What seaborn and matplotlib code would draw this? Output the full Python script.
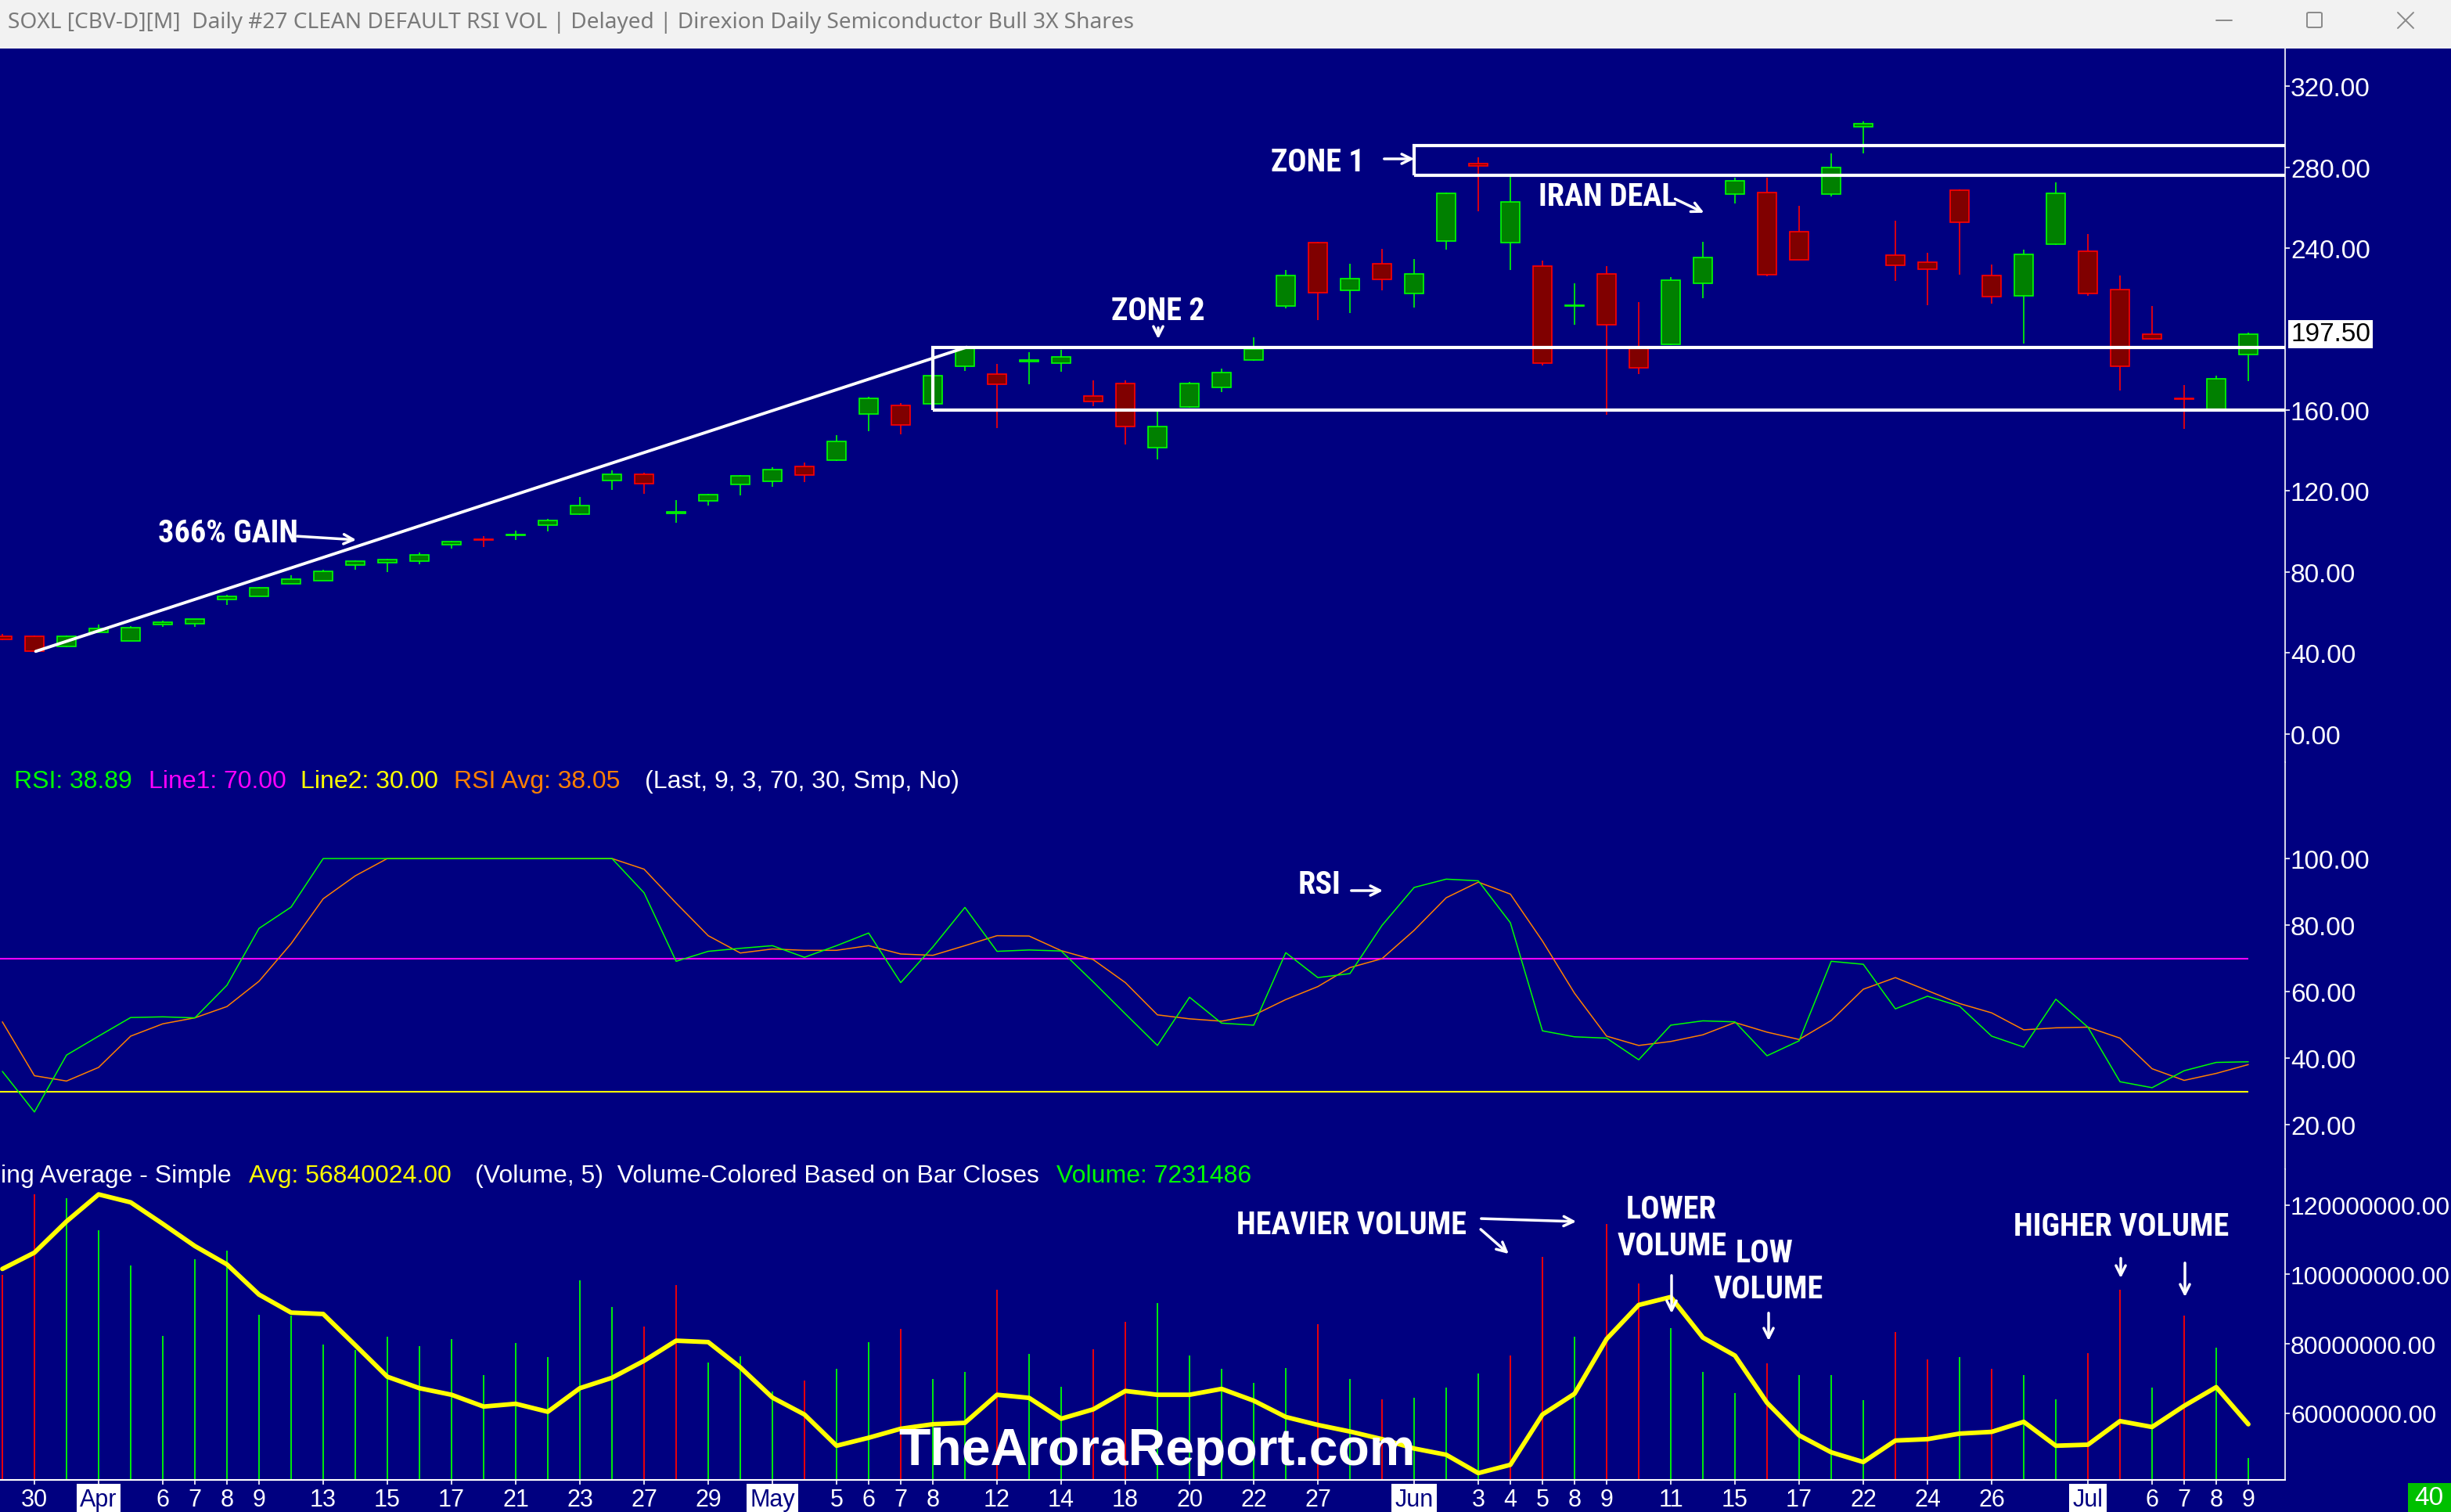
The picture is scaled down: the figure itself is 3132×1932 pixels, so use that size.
import matplotlib
matplotlib.use("Agg")
import numpy as np
import pandas as pd
import matplotlib.pyplot as plt
import seaborn as sns
from matplotlib import font_manager
from matplotlib.patches import Rectangle, FancyArrowPatch, FancyBboxPatch
from matplotlib.lines import Line2D

# ---- data (71 daily bars) ----
opens = [48.0, 48.0, 43.2, 50.2, 46.0, 53.8, 54.4, 66.2, 68.0, 74.2,
         75.8, 83.5, 84.6, 85.1, 93.3, 96.2, 98.2, 102.9, 108.6, 125.3,
         128.4, 108.9, 115.1, 123.0, 124.8, 132.2, 135.0, 158.1, 162.3, 163.2,
         181.4, 177.9, 184.1, 183.0, 167.0, 173.2, 141.5, 161.4, 171.2, 184.8,
         211.4, 242.7, 219.2, 232.3, 217.6, 243.6, 281.8, 242.5, 231.2, 211.2,
         227.4, 190.3, 192.5, 222.5, 266.5, 267.6, 248.0, 266.5, 299.8, 236.5,
         233.2, 268.7, 226.5, 216.5, 241.8, 238.3, 219.6, 197.6, 165.7, 160.4,
         187.2]
highs = [49.3, 48.6, 48.7, 54.0, 53.0, 56.0, 56.8, 68.7, 72.6, 78.5,
         81.0, 85.5, 86.5, 89.5, 95.3, 97.5, 100.2, 106.2, 116.9, 130.2,
         128.8, 115.5, 118.6, 127.8, 131.7, 134.0, 147.5, 166.5, 163.3, 177.5,
         190.8, 182.6, 188.7, 189.6, 174.8, 174.5, 160.8, 173.8, 180.3, 195.9,
         229.2, 243.0, 232.3, 239.6, 234.5, 267.5, 284.9, 275.3, 233.8, 222.5,
         231.2, 213.2, 225.8, 242.9, 274.7, 274.7, 260.7, 286.7, 302.6, 253.4,
         237.6, 269.0, 231.8, 239.2, 272.5, 246.9, 226.5, 211.4, 172.4, 177.0,
         198.2]
lows = [46.3, 40.5, 42.7, 49.8, 45.8, 52.9, 52.7, 63.8, 67.8, 74.0,
        75.6, 81.1, 79.8, 83.8, 91.3, 92.2, 95.7, 100.0, 108.0, 120.6,
        118.4, 104.4, 112.8, 117.7, 122.2, 124.4, 134.6, 149.5, 147.9, 162.8,
        179.4, 151.0, 172.8, 179.0, 161.7, 143.0, 135.5, 161.0, 168.8, 184.2,
        210.3, 204.3, 207.8, 219.2, 210.7, 239.4, 258.0, 229.2, 182.1, 202.1,
        157.7, 177.9, 192.0, 215.2, 262.0, 226.0, 234.0, 265.6, 286.9, 223.8,
        211.6, 226.7, 212.5, 192.8, 241.5, 216.3, 169.5, 194.8, 150.8, 160.2,
        174.3]
closes = [46.7, 40.7, 48.0, 52.2, 52.5, 55.1, 56.5, 67.8, 72.0, 76.4,
          80.4, 85.3, 86.0, 88.4, 94.9, 95.9, 98.5, 105.5, 112.8, 128.4,
          123.5, 109.7, 118.2, 127.3, 130.6, 127.7, 144.4, 165.9, 152.4, 177.0,
          190.3, 172.8, 184.5, 186.3, 164.3, 151.9, 151.9, 173.2, 178.5, 190.1,
          226.3, 218.1, 224.9, 224.7, 227.4, 266.9, 280.7, 262.9, 183.0, 211.6,
          201.9, 181.0, 224.3, 235.4, 273.1, 226.7, 234.3, 279.8, 301.3, 231.6,
          229.6, 252.9, 215.9, 236.7, 267.1, 217.6, 181.7, 195.0, 165.3, 175.4,
          197.5]

rsi = [36.0, 23.8, 40.9, 46.6, 52.2, 52.4, 52.1, 61.9, 79.0, 85.4,
       100, 100, 100, 100, 100, 100, 100, 100, 100, 100,
       89.7, 69.1, 72.1, 73.0, 73.8, 70.3, 73.8, 77.6, 62.7, 73.4,
       85.3, 72.1, 72.5, 72.2, 62.9, 53.3, 43.8, 58.3, 50.5, 49.9,
       71.7, 64.2, 65.4, 79.9, 91.3, 93.8, 93.3, 80.7, 48.2, 46.4,
       46.0, 39.5, 49.9, 51.2, 50.9, 40.7, 45.2, 69.1, 68.2, 54.8,
       58.6, 55.6, 46.6, 43.3, 57.7, 49.3, 32.9, 31.1, 36.2, 38.7,
       38.89]
rsi_avg = [50.9, 34.7, 33.1, 37.2, 46.6, 50.3, 52.1, 55.5, 63.1, 74.4,
           87.9, 94.8, 100, 100, 100, 100, 100, 100, 100, 100,
           96.8, 86.6, 76.8, 71.6, 72.8, 72.4, 72.4, 73.8, 71.3, 70.9,
           73.8, 76.8, 76.7, 72.3, 69.6, 62.7, 53.0, 51.8, 51.1, 52.9,
           57.6, 61.5, 67.2, 69.9, 78.4, 88.2, 92.9, 89.3, 75.2, 59.5,
           46.6, 43.8, 45.0, 47.0, 50.7, 47.8, 45.6, 51.3, 60.7, 64.2,
           60.3, 56.4, 53.6, 48.5, 49.1, 49.3, 46.0, 36.8, 33.3, 35.4,
           38.05]

volume_m = [99.9, 123.1, 122.1, 112.7, 102.7, 82.2, 104.4, 106.8, 88.4, 88.2,
            79.7, 78.2, 82.0, 79.3, 81.3, 71.1, 80.2, 76.1, 98.2, 90.6,
            85.0, 97.0, 74.5, 76.4, 66.3, 69.4, 72.8, 80.5, 84.3, 69.8,
            71.9, 95.5, 77.1, 67.7, 78.4, 86.3, 91.8, 76.6, 72.8, 68.7,
            73.0, 85.6, 69.8, 63.9, 64.4, 67.4, 71.4, 76.6, 105.1, 82.1,
            114.6, 97.4, 84.5, 71.9, 65.8, 74.3, 70.9, 71.1, 63.8, 83.3,
            75.4, 76.2, 72.8, 70.9, 63.9, 77.3, 95.6, 67.4, 88.2, 79.0,
            47.1]
# g = close above previous close, r = below
volume_dir = list("rrggggggggggggggggggrrgggrggrggrggrrggggg"
                  "rgrgggrrgrrgggrgggrrgrggrrgrgg")
vol_avg_m = [101.6, 106.3, 115.3, 123.1, 120.8, 114.6, 108.2, 102.9, 94.2, 89.0,
             88.6, 79.6, 70.5, 67.2, 65.3, 61.9, 62.7, 60.4, 67.2, 70.2,
             75.1, 80.9, 80.5, 73.2, 64.5, 59.6, 50.6, 52.9, 55.5, 56.8,
             57.2, 65.3, 64.4, 58.4, 61.1, 66.4, 65.3, 65.3, 67.0, 63.6,
             58.9, 56.6, 54.7, 52.5, 49.8, 48.0, 42.7, 45.1, 59.6, 65.6,
             81.4, 91.2, 93.5, 81.8, 76.6, 63.0, 53.6, 48.7, 45.9, 52.1,
             52.5, 54.1, 54.6, 57.5, 50.6, 50.9, 57.7, 56.0, 62.1, 67.5,
             56.8]

date_pos = [1, 3, 5, 6, 7, 8, 10, 12, 14, 16, 18, 20, 22, 24, 26, 27, 28, 29, 31, 33,
            35, 37, 39, 41, 44, 46, 47, 48, 49, 50, 52, 54, 56, 58, 60, 62, 65, 67, 68, 69, 70]
date_labels = ["30", "Apr", "6", "7", "8", "9", "13", "15", "17", "21", "23", "27", "29",
               "May", "5", "6", "7", "8", "12", "14", "18", "20", "22", "27", "Jun", "3",
               "4", "5", "8", "9", "11", "15", "17", "22", "24", "26", "Jul", "6", "7", "8", "9"]
months = {"Apr", "May", "Jun", "Jul"}

price_ticks = [0, 40, 80, 120, 160, 240, 280, 320]
rsi_ticks = [20, 40, 60, 80, 100]
vol_ticks = [60e6, 80e6, 100e6, 120e6]

df = pd.DataFrame({"open": opens, "high": highs, "low": lows, "close": closes,
                   "rsi": rsi, "rsi_avg": rsi_avg,
                   "volume": np.array(volume_m) * 1e6, "vdir": volume_dir,
                   "vavg": np.array(vol_avg_m) * 1e6})
df["i"] = np.arange(len(df))

# ---- styling ----
W, H = 3132, 1933
NAVY = "#000080"
sns.set_theme(style="dark", rc={"axes.facecolor": NAVY, "figure.facecolor": NAVY})
names = {f.name for f in font_manager.fontManager.ttflist}
NARROW = "Liberation Sans"
for cand in ["Roboto Condensed", "Archivo Narrow", "Liberation Sans Narrow"]:
    if cand in names:
        NARROW = cand
        break
plt.rcParams["font.family"] = ["Liberation Sans", "DejaVu Sans"]

fig = plt.figure(figsize=(W / 100, H / 100), dpi=100, facecolor=NAVY)


def box(x0, y0, x1, y1):
    return [x0 / W, 1 - y1 / H, (x1 - x0) / W, (y1 - y0) / H]


def fx(x):
    return x / W


def fy(y):
    return 1 - y / H


XL = (-0.073, 71.146)
ax_p = fig.add_axes(box(0, 63, 2920, 975))
ax_r = fig.add_axes(box(0, 975, 2920, 1495))
ax_v = fig.add_axes(box(0, 1495, 2920, 1892))

for ax in (ax_p, ax_r, ax_v):
    ax.set_facecolor(NAVY)
    ax.set_xlim(*XL)
    ax.grid(False)
    for s in ax.spines.values():
        s.set_visible(False)
    ax.spines["right"].set_visible(True)
    ax.spines["right"].set_color("white")
    ax.spines["right"].set_linewidth(1.2)
    ax.yaxis.tick_right()
    ax.tick_params(axis="y", colors="white", labelsize=24, length=4, width=1.2,
                   direction="out", pad=1, right=True, left=False)
    ax.tick_params(axis="x", bottom=False, labelbottom=False)

# ---- price panel ----
ax_p.set_ylim(-14.1, 338.6)
ax_p.set_yticks(price_ticks)
ax_p.set_yticklabels([f"{t:.2f}" for t in price_ticks])

up = df["close"] >= df["open"]
wick_col = np.where(up, "#00ff00", "#ff0000")
ax_p.vlines(df["i"], df["low"], df["high"], colors=wick_col, linewidth=1.2, zorder=2)
body_lo = np.minimum(df["open"], df["close"])
body_h = np.maximum((df["close"] - df["open"]).abs(), 0.4)
ax_p.bar(df["i"], body_h, bottom=body_lo, width=0.6,
         color=np.where(up, "#008000", "#800000"),
         edgecolor=wick_col, linewidth=1.2, zorder=3)

# trend line and zones
ax_p.plot([1.04, 30.05], [40.7, 191.0], color="white", lw=2.8, zorder=4,
          solid_capstyle="round")
ax_p.add_patch(Rectangle((29, 159.9), 50, 191.0 - 159.9, fill=False,
                         edgecolor="white", lw=3.0, zorder=4))
ax_p.add_patch(Rectangle((44, 275.8), 50, 290.5 - 275.8, fill=False,
                         edgecolor="white", lw=3.0, zorder=4))

# ---- RSI panel ----
ax_r.set_ylim(6.59, 128.94)
ax_r.set_yticks(rsi_ticks)
ax_r.set_yticklabels([f"{t:.2f}" for t in rsi_ticks])
ax_r.hlines(70, XL[0], 70, color="#ff00ff", lw=1.5)
ax_r.hlines(30, XL[0], 70, color="#ffff00", lw=1.5)
sns.lineplot(data=df, x="i", y="rsi_avg", ax=ax_r, color="#ff8000", linewidth=1.1)
sns.lineplot(data=df, x="i", y="rsi", ax=ax_r, color="#00ff00", linewidth=1.1)
ax_r.set_xlabel("")
ax_r.set_ylabel("")

# ---- volume panel ----
VB = 40.74e6
ax_v.set_ylim(VB, 130.36e6)
ax_v.set_yticks(vol_ticks)
ax_v.set_yticklabels([f"{t:.2f}" for t in vol_ticks])
ax_v.tick_params(axis="y", labelsize=23)
vcols = df["vdir"].map({"g": "#00ff00", "r": "#ff0000"})
ax_v.vlines(df["i"], VB, df["volume"], colors=vcols, linewidth=1.3, zorder=2)
sns.lineplot(data=df, x="i", y="vavg", ax=ax_v, color="#ffff00", linewidth=4.2, zorder=3)
ax_v.set_xlabel("")
ax_v.set_ylabel("")
ax_v.spines["bottom"].set_visible(True)
ax_v.spines["bottom"].set_color("white")
ax_v.spines["bottom"].set_linewidth(1.5)
ax_v.set_xticks(date_pos)
ax_v.set_xticklabels(date_labels)
ax_v.tick_params(axis="x", bottom=True, labelbottom=True, colors="white",
                 labelsize=22, length=4, width=1.2, direction="out", pad=3)
for lbl in ax_v.get_xticklabels():
    if lbl.get_text() in months:
        lbl.set_color(NAVY)
        lbl.set_bbox(dict(facecolor="white", edgecolor="none", boxstyle="square,pad=0.15"))

# ---- title bar ----
fig.patches.append(Rectangle((0, fy(63)), 1, 63 / H, transform=fig.transFigure,
                             facecolor="#f2f2f2", edgecolor="none", zorder=0))
fig.text(fx(10), fy(29), "SOXL [CBV-D][M]  Daily #27 CLEAN DEFAULT RSI VOL | Delayed | "
         "Direxion Daily Semiconductor Bull 3X Shares", color="#7a7a7a", fontsize=20.2,
         family=["Noto Sans", "DejaVu Sans"], ha="left", va="center")
gray = "#8a8a8a"
fig.add_artist(Line2D([fx(2832), fx(2852)], [fy(27), fy(27)], color=gray, lw=1.4))
fig.add_artist(FancyBboxPatch((fx(2948), fy(36)), 19 / W, 19 / H, transform=fig.transFigure,
                              boxstyle="round,pad=0,rounding_size=0.0008",
                              fill=False, edgecolor=gray, lw=1.4))
fig.add_artist(Line2D([fx(3064), fx(3084)], [fy(17), fy(37)], color=gray, lw=1.4))
fig.add_artist(Line2D([fx(3064), fx(3084)], [fy(37), fy(17)], color=gray, lw=1.4))

# ---- panel headers ----
for s, x, c in [("RSI: 38.89", 18, "#00ff00"), ("Line1: 70.00", 190, "#ff00ff"),
                ("Line2: 30.00", 384, "#ffff00"), ("RSI Avg: 38.05", 580, "#ff8000"),
                ("(Last, 9, 3, 70, 30, Smp, No)", 824, "white")]:
    fig.text(fx(x), fy(999), s, color=c, fontsize=23, ha="left", va="center")
fig.text(fx(1), fy(1503), "ing Average - Simple", color="white", fontsize=23,
         ha="left", va="center")
for s, x, c in [("Avg: 56840024.00", 318, "#ffff00"),
                ("(Volume, 5)  Volume-Colored Based on Bar Closes", 607, "white"),
                ("Volume: 7231486", 1350, "#00ff00")]:
    fig.text(fx(x), fy(1503), s, color=c, fontsize=23, ha="left", va="center")

# last price label
fig.text(fx(2927), fy(428), "197.50", color="black", fontsize=24, ha="left", va="center",
         bbox=dict(facecolor="white", edgecolor="none", boxstyle="square,pad=0.08"))

# corner box
fig.add_artist(Rectangle((fx(3077), 0), 55 / W, 37 / H, transform=fig.transFigure,
                         facecolor="#00c000", edgecolor="none"))
fig.text(fx(3104), fy(1915), "40", color="white", fontsize=24, ha="center", va="center")

# ---- annotations ----
afont = dict(color="white", fontsize=29, fontweight="bold", family=[NARROW, "DejaVu Sans"],
             ha="center", va="center")


def note(x, y, s):
    fig.text(fx(x), fy(y), s, **afont)


def arrow(x0, y0, x1, y1):
    fig.add_artist(FancyArrowPatch((fx(x0), fy(y0)), (fx(x1), fy(y1)),
                                   transform=fig.transFigure, arrowstyle="->",
                                   mutation_scale=22, color="white", lw=2.5))


note(291, 682, "366% GAIN")
arrow(377, 686, 458, 691)
note(1480, 398, "ZONE 2")
arrow(1480, 417, 1480, 437)
note(1684, 208, "ZONE 1")
arrow(1766, 204, 1810, 204)
note(2054, 252, "IRAN DEAL")
arrow(2138, 254, 2180, 274)
note(1686, 1131, "RSI")
arrow(1724, 1139, 1770, 1139)
note(1727, 1566, "HEAVIER VOLUME")
arrow(1890, 1558, 2017, 1562)
arrow(1890, 1570, 1930, 1605)
note(2136, 1546, "LOWER")
note(2137, 1593, "VOLUME")
arrow(2136, 1628, 2136, 1682)
note(2255, 1602, "LOW")
note(2260, 1648, "VOLUME")
arrow(2260, 1676, 2260, 1717)
note(2711, 1568, "HIGHER VOLUME")
arrow(2710, 1606, 2710, 1637)
arrow(2792, 1612, 2792, 1661)

fig.text(fx(1148), fy(1872), "TheAroraReport.com", color="white", fontsize=47.5,
         fontweight="bold", ha="left", va="baseline")

fig.savefig("out.png", dpi=100, facecolor=NAVY)
